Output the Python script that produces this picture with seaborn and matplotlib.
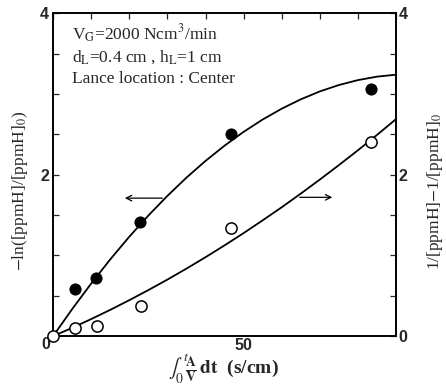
import matplotlib
matplotlib.use("Agg")
import matplotlib.pyplot as plt
import seaborn as sns
import pandas as pd

# measured points (x = integral A/V dt, s/cm)
x_filled = [5.8, 11.3, 22.8, 46.7, 83.4]
y_filled = [0.59, 0.72, 1.42, 2.50, 3.06]          # -ln([ppmH]/[ppmH]0), left axis
x_open = [0.0, 5.8, 11.5, 23.1, 46.7, 83.4]
y_open = [0.0, 0.10, 0.12, 0.38, 1.34, 2.41]        # 1/[ppmH]-1/[ppmH]0, right axis

# fitted curves
x_curve = [0, 5, 10, 15, 20, 25, 30, 35, 40, 45, 50, 55, 60, 65, 70, 75, 80, 85, 90]
y_curve_filled = [0, 0.335, 0.652, 0.951, 1.232, 1.494, 1.738, 1.964, 2.171, 2.360,
                  2.531, 2.684, 2.818, 2.934, 3.032, 3.111, 3.172, 3.215, 3.239]
y_curve_open = [0, 0.103, 0.212, 0.326, 0.446, 0.571, 0.701, 0.837, 0.978, 1.125,
                1.277, 1.435, 1.597, 1.766, 1.940, 2.119, 2.303, 2.493, 2.689]

x_ticks = [0, 10, 20, 30, 40, 50, 60, 70, 80, 90]
x_ticklabels = ["", "", "", "", "", "50", "", "", "", ""]
y_ticks = [0, 0.5, 1, 1.5, 2, 2.5, 3, 3.5, 4]
y_ticklabels_left = ["", "", "", "", "2", "", "", "", "4"]
y_ticklabels_right = ["0", "", "", "", "2", "", "", "", "4"]

sns.set_style("white")
plt.rcParams["font.family"] = ["Liberation Serif", "DejaVu Serif"]
plt.rcParams["mathtext.fontset"] = "stix"

fig = plt.figure(figsize=(4.46, 3.90), dpi=100)
ax = fig.add_axes([0.119, 0.138, 0.769, 0.828])
ax2 = ax.twinx()

df_fc = pd.DataFrame({"x": x_curve, "y": y_curve_filled})
df_oc = pd.DataFrame({"x": x_curve, "y": y_curve_open})
df_f = pd.DataFrame({"x": x_filled, "y": y_filled})
df_o = pd.DataFrame({"x": x_open, "y": y_open})

sns.lineplot(data=df_fc, x="x", y="y", ax=ax, color="black", lw=1.3, sort=False)
sns.scatterplot(data=df_f, x="x", y="y", ax=ax, color="black", s=65,
                edgecolor="black", zorder=5, clip_on=False)
sns.lineplot(data=df_oc, x="x", y="y", ax=ax2, color="black", lw=1.3, sort=False)
sns.scatterplot(data=df_o, x="x", y="y", ax=ax2, color="white", s=65,
                edgecolor="black", linewidth=1.1, zorder=5, clip_on=False)

for a, labels in ((ax, y_ticklabels_left), (ax2, y_ticklabels_right)):
    a.set_xlim(0, 90)
    a.set_ylim(0, 4)
    a.set_yticks(y_ticks)
    a.set_yticklabels(labels, family="Liberation Sans", fontsize=11.5,
                      fontweight="bold")
    a.set_xlabel("")
    a.set_ylabel("")
    a.tick_params(direction="in", length=4, width=0.9)
    for sp in a.spines.values():
        sp.set_linewidth(1.2)
        sp.set_color("black")

ax.set_xticks(x_ticks)
ax.set_xticklabels(x_ticklabels, family="Liberation Sans", fontsize=11.5,
                   fontweight="bold")
ax.tick_params(axis="x", top=True, pad=1)
ax.tick_params(axis="y", pad=3)
ax2.tick_params(axis="y", pad=2)

# shared origin label, sits below-left of the corner
ax.text(-0.008, -0.003, "0", transform=ax.transAxes, ha="right", va="top",
        family="Liberation Sans", fontsize=11.5, fontweight="bold")

# arrows pointing to each axis
ax.annotate("", xy=(18.1, 1.71), xytext=(29.4, 1.71),
            arrowprops=dict(arrowstyle="->", lw=0.9, color="black"))
ax.annotate("", xy=(74.0, 1.72), xytext=(64.0, 1.72),
            arrowprops=dict(arrowstyle="->", lw=0.9, color="black"))

ax.text(0.055, 0.935, r"V$_\mathrm{G}$=2000 Ncm$^3$/min", transform=ax.transAxes,
        fontsize=12.5, va="center")
ax.text(0.055, 0.865, r"d$_\mathrm{L}$=0.4 cm , h$_\mathrm{L}$=1 cm", transform=ax.transAxes,
        fontsize=12.5, va="center")
ax.text(0.055, 0.795, "Lance location : Center", transform=ax.transAxes,
        fontsize=12.5, va="center")

fig.text(0.045, 0.51, r"$-$ln([ppmH]/[ppmH]$_0$)", rotation=90, ha="center",
         va="center", fontsize=12.5)
fig.text(0.975, 0.51, r"1/[ppmH]$-$1/[ppmH]$_0$", rotation=90, ha="center",
         va="center", fontsize=12.5)
fig.text(0.5, 0.055,
         r"$\int_0^{\,t}\!\mathbf{\frac{A}{V}}\,\mathbf{dt}$  (s/cm)",
         ha="center", va="center", fontsize=14, fontweight="bold")

fig.savefig("out.png", dpi=100)
